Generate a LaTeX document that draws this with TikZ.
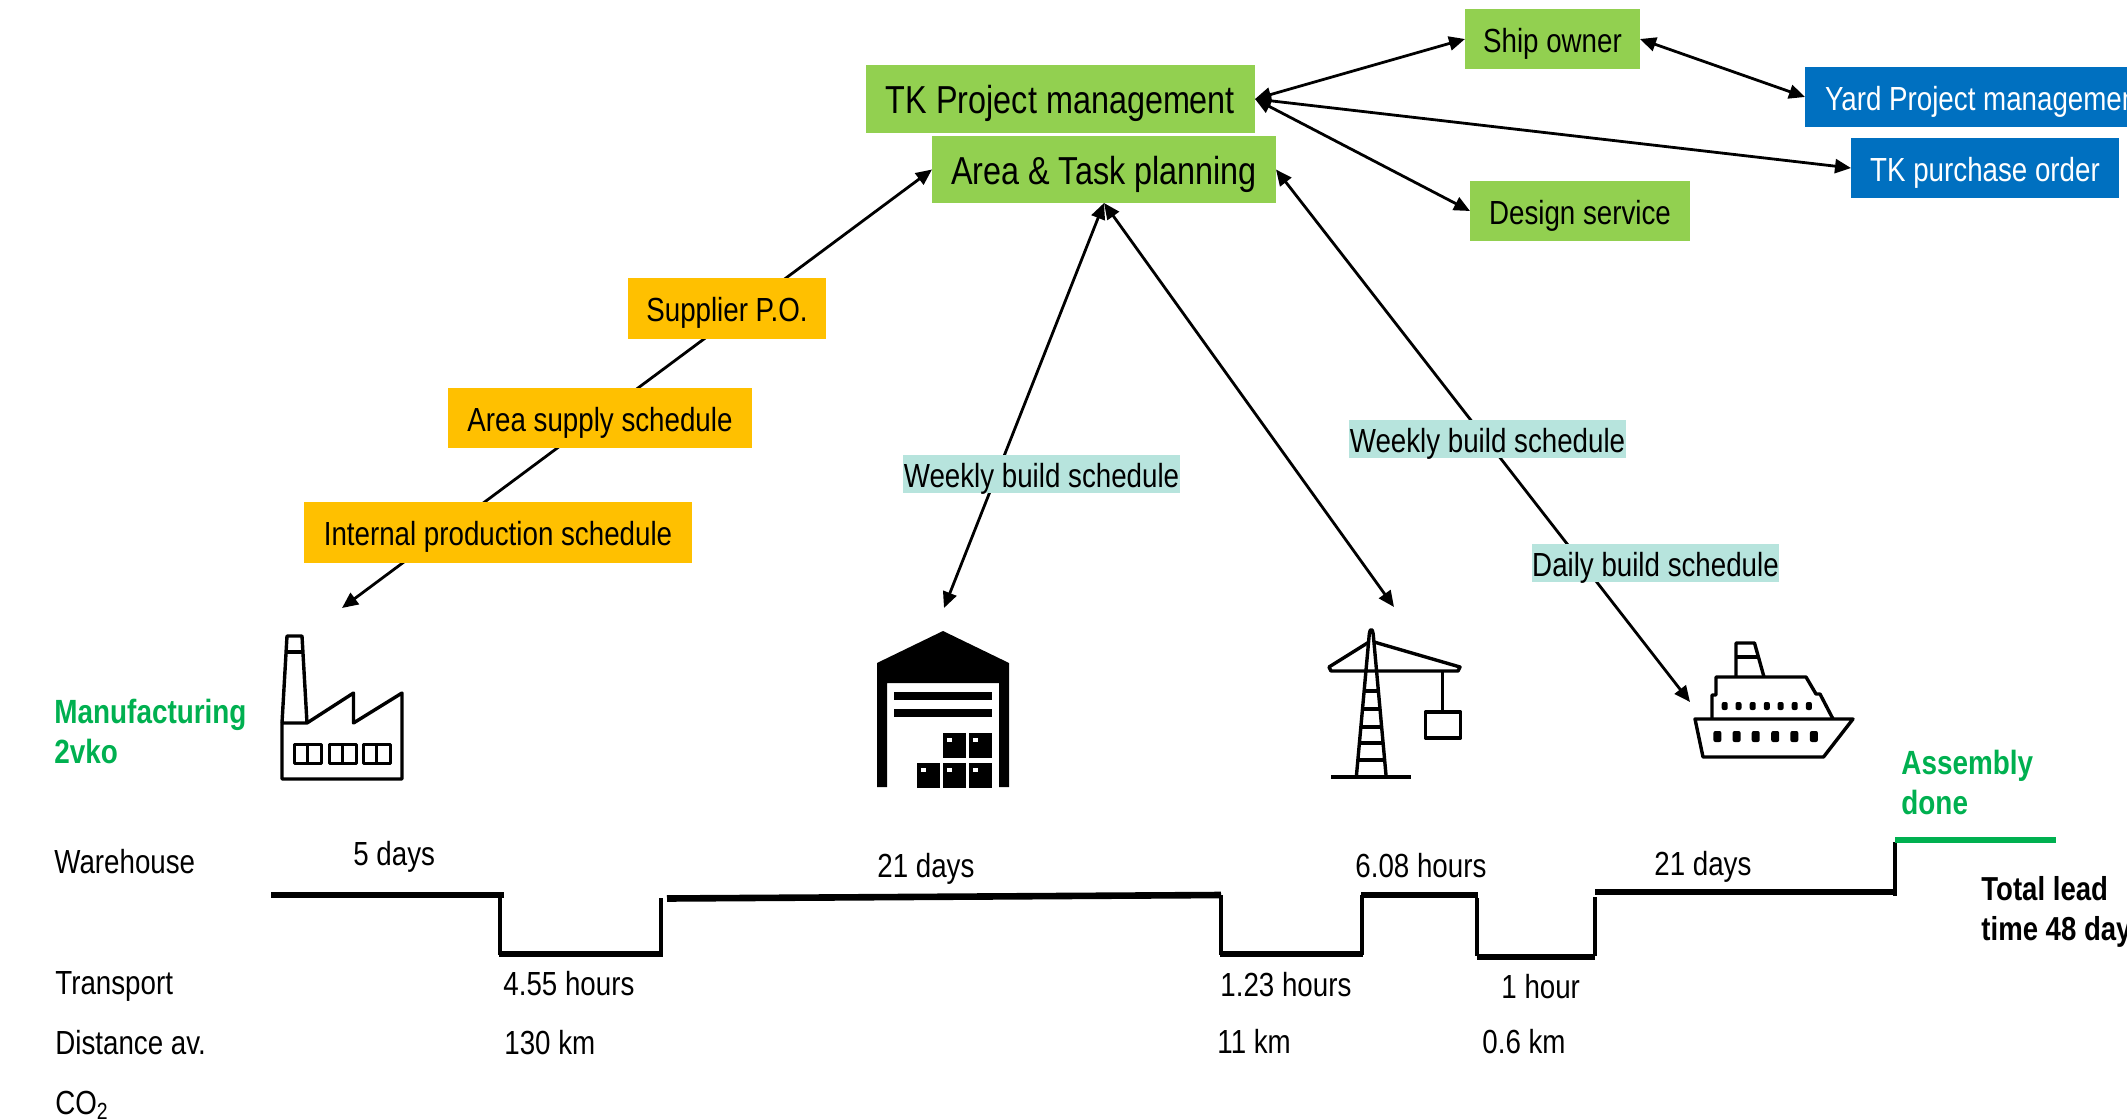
\documentclass[tikz,border=0pt]{standalone}
\usepackage{fontspec}
\setmainfont[FakeStretch=0.83]{Liberation Sans}
\usetikzlibrary{arrows.meta,backgrounds}
\definecolor{kgreen}{HTML}{92D050}
\definecolor{korange}{HTML}{FFC000}
\definecolor{kblue}{HTML}{0070C0}
\definecolor{kteal}{HTML}{B7E4DD}
\definecolor{kgtext}{HTML}{00B050}
\newcommand{\pxbox}[7]{%
  \pgfmathsetmacro\boxcx{(#2+#4)/2}%
  \pgfmathsetmacro\boxcy{(#3+#5)/2}%
  \pgfmathsetmacro\boxw{(#4-#2)/2}%
  \pgfmathsetmacro\boxh{(#5-#3)/2}%
  \node[#6,minimum width=\boxw pt,minimum height=\boxh pt] (#1) at (\boxcx,\boxcy) {#7};}
\tikzset{
  x=0.5pt,y=-0.5pt,
  flowbox/.style={inner sep=0pt,outer sep=0pt,text height=13pt,text depth=0pt,font=\fontsize{16.7}{20}\selectfont},
  greenbig/.style={flowbox,fill=kgreen,text height=14.8pt,font=\fontsize{19.5}{23}\selectfont},
  greensmall/.style={flowbox,fill=kgreen},
  orangebox/.style={flowbox,fill=korange},
  bluebox/.style={flowbox,fill=kblue,text=white},
  tealbox/.style={flowbox,fill=kteal},
  lab/.style={anchor=base west,inner sep=0pt,font=\fontsize{16.7}{20}\selectfont},
  greenlab/.style={lab,text=kgtext,font=\fontsize{16.8}{20}\selectfont\bfseries},
  boldlab/.style={lab,font=\fontsize{16.6}{20}\selectfont\bfseries},
  conn/.style={line width=1.4pt,{Triangle[length=8pt,width=7pt]}-{Triangle[length=8pt,width=7pt]}},
  hline/.style={line width=3.3pt},
  vline/.style={line width=2.1pt},
  icon/.style={line width=1.7pt,line join=round},
}
\begin{document}
\begin{tikzpicture}
\clip (0,0) rectangle (2127,1119);

% boxes
\pxbox{tk}{866}{65}{1255}{133}{greenbig}{TK Project management}
\pxbox{area}{932}{136}{1276}{203}{greenbig}{Area \& Task planning}
\pxbox{ship}{1465}{9}{1640}{69}{greensmall}{Ship owner}
\pxbox{design}{1470}{181}{1690}{241}{greensmall}{Design service}
\pxbox{yard}{1805}{67}{2165}{127}{bluebox}{Yard Project management}
\pxbox{purchase}{1851}{138}{2119}{198}{bluebox}{TK purchase order}
\pxbox{supplier}{628}{278}{826}{339}{orangebox}{Supplier P.O.}
\pxbox{supply}{448}{388}{752}{448}{orangebox}{Area supply schedule}
\pxbox{internal}{304}{502}{692}{563}{orangebox}{Internal production schedule}
\pxbox{weeklya}{903}{455}{1180}{493}{tealbox}{Weekly build schedule}
\pxbox{weeklyb}{1349}{420}{1626}{458}{tealbox}{Weekly build schedule}
\pxbox{daily}{1532}{544}{1779}{582}{tealbox}{Daily build schedule}

% free ends of the connectors
\coordinate (factorytip) at (342,608);
\coordinate (housetip) at (944,608);
\coordinate (cranetip) at (1394,607);
\coordinate (shiptip) at (1690,702);

\begin{pgfonlayer}{background}
\draw[conn] (tk.east) -- (ship.west);
\draw[conn] (tk.east) -- (purchase.west);
\draw[conn] (tk.east) -- (design.west);
\draw[conn] (ship.east) -- (yard.west);
\draw[conn] (area.west) -- (factorytip);
\draw[conn] (area.south) -- (housetip);
\draw[conn] (area.south) -- (cranetip);
\draw[conn] (area.east) -- (shiptip);
\end{pgfonlayer}

% left labels
\node[greenlab] (mfa) at (54,723) {Manufacturing};
\node[greenlab] (mfb) at (54,763) {2vko};
\node[lab] (lwh) at (54,873) {Warehouse};
\node[lab] (ltr) at (55,994) {Transport};
\node[lab] (ldi) at (55,1054) {Distance av.};
\node[lab] (lco) at (55,1114) {CO\textsubscript{2}};

% timeline labels
\node[lab] (ta) at (353,865) {5 days};
\node[lab] (tb) at (503,995) {4.55 hours};
\node[lab] (tc) at (504,1054) {130 km};
\node[lab] (td) at (877,877) {21 days};
\node[lab] (te) at (1220,996) {1.23 hours};
\node[lab] (tf) at (1217,1053) {11 km};
\node[lab] (tg) at (1355,877) {6.08 hours};
\node[lab] (th) at (1501,998) {1 hour};
\node[lab] (ti) at (1482,1053) {0.6 km};
\node[lab] (tj) at (1654,875) {21 days};
\node[greenlab] (asa) at (1901,774) {Assembly};
\node[greenlab] (asb) at (1901,814) {done};
\node[boldlab] (tla) at (1981,900) {Total lead};
\node[boldlab] (tlb) at (1981,940) {time 48 days};

% timeline
\draw[hline] (271,895) -- (504,895);
\draw[vline] (500,895) -- (500,955);
\draw[hline] (499,954) -- (663,954);
\draw[vline] (661,898) -- (661,955);
\draw[hline] (667,898.5) -- (1221,895);
\draw[vline] (1221,895) -- (1221,955);
\draw[hline] (1220,954) -- (1363,954);
\draw[vline] (1362,895) -- (1362,955);
\draw[hline] (1361,895) -- (1478,895);
\draw[vline] (1477,898) -- (1477,956);
\draw[hline] (1477,957) -- (1595,957);
\draw[vline] (1595,897) -- (1595,956);
\draw[hline] (1595,892) -- (1897,892);
\draw[vline] (1895,842) -- (1895,896);
\draw[hline,kgtext] (1895,840) -- (2056,840);

% factory
\begin{scope}[icon]
\draw (282,723) -- (307,723) -- (353.5,693) -- (353.5,723) -- (402,693) -- (402,779) -- (282,779) -- cycle;
\draw (282,723) -- (287,636) -- (302,636) -- (307,723);
\draw (285,652) -- (304,652);
\foreach \wx in {294,329,363}{
  \draw[line width=1.5pt] (\wx,744) rectangle ++(27,19);
  \draw[line width=1.5pt] (\wx+13.5,744) -- ++(0,19);
}
\end{scope}

% warehouse
\fill (877,787) -- (877,663) -- (943,631) -- (1009,663) -- (1009,787) -- (999,787) -- (999,683) -- (887,683) -- (887,787) -- cycle;
\fill (894,692) rectangle (992,700);
\fill (894,709) rectangle (992,717);
\foreach \bx/\by in {943/733,969/733,917/763,943/763,969/763}{
  \fill (\bx,\by) rectangle ++(23,24.5);
  \fill[white] (\bx+4,\by+5) rectangle ++(5,4);
}

% crane
\begin{scope}[icon]
\draw (1356.5,775) -- (1369.3,634) .. controls (1370,628) and (1372.5,628) .. (1373.2,634) -- (1386,775);
\draw (1331,777) -- (1411,777);
\draw (1369,642) -- (1329,667) -- (1331,671) -- (1458,671) -- (1460,667) -- (1374,642);
\draw (1442.6,671) -- (1442.6,712);
\draw (1425.4,712) rectangle (1460.6,738);
\foreach \ry/\rh in {691/7.3,709/8.9,727/10.5,743/11.9,760/13.4}{
  \draw (1371.25-\rh,\ry) -- (1371.25+\rh,\ry);
}
\end{scope}

% ship
\begin{scope}[icon]
\draw (1695,719) -- (1853,719) -- (1823.5,757) -- (1703,757) -- cycle;
\draw (1712,719) -- (1712,695) -- (1716,695) -- (1716,677) -- (1806,677) -- (1816,694) -- (1820,694) -- (1833,719);
\draw (1736,677) -- (1736,643) -- (1754.5,643) -- (1764,677);
\draw (1736,657) -- (1758,657);
\end{scope}
\foreach \sx in {1724.7,1738.5,1752.7,1766.8,1780.6,1794.7,1808.9}{
  \fill[rounded corners=1pt] (\sx-3,702) rectangle (\sx+3,710);
}
\foreach \sx in {1717.4,1736.6,1755.7,1775.2,1794.3,1813.9}{
  \fill[rounded corners=1pt] (\sx-4,731) rectangle (\sx+4,742);
}
\end{tikzpicture}
\end{document}
